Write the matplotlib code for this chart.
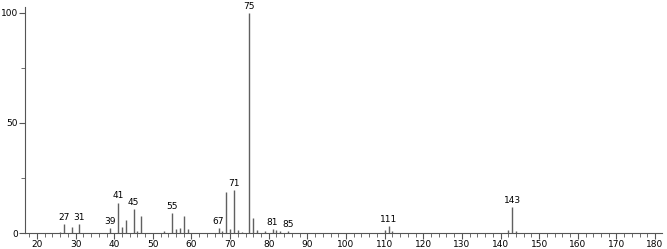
import matplotlib
matplotlib.use("Agg")
import matplotlib.pyplot as plt

mz = [26, 27, 29, 31, 39, 41, 42, 43, 45, 46, 47, 53, 55, 56, 57, 58, 59,
      67, 68, 69, 70, 71, 72, 73, 75, 76, 77, 79, 81, 82, 83, 85,
      110, 111, 112, 142, 143, 144]
intensity = [0.4, 4.1, 2.6, 4.1, 2.1, 13.8, 2.6, 5.9, 10.8, 0.8, 7.7, 0.8, 9.2, 1.8, 2.4, 7.7, 2.0,
             2.1, 1.0, 18.5, 1.7, 19.5, 1.5, 0.6, 100, 6.7, 1.5, 0.7, 1.8, 1.5, 0.8, 1.0,
             1.5, 3.2, 0.8, 1.5, 11.7, 1.0]
labeled = [27, 31, 39, 41, 45, 55, 67, 71, 75, 81, 85, 111, 143]
x_ticks = list(range(20, 181, 10))
y_ticks = [0, 50, 100]

fig = plt.figure(figsize=(6.67, 2.49), dpi=100)
ax = fig.add_axes([25/667, 16/249, 637/667, 226/249])
ax.vlines(mz, 0, intensity, color="#606060", linewidth=1.0)
for m, v in zip(mz, intensity):
    if m in labeled:
        ax.text(m, v + 1.0, str(m), ha="center", va="bottom", fontsize=6.5, color="black")

ax.set_xlim(16.9, 181.8)
ax.set_ylim(0, 102.7)
ax.set_xticks(x_ticks)
ax.set_xticks(range(18, 182, 2), minor=True)
ax.set_yticks(y_ticks)
ax.set_yticks([25, 75], minor=True)
for s in ["top", "right"]:
    ax.spines[s].set_visible(False)
ax.spines["left"].set_color("#555555")
ax.spines["bottom"].set_color("#555555")
ax.tick_params(axis="both", which="major", labelsize=6.5, length=4, color="#555555")
ax.tick_params(axis="both", which="minor", length=3, color="#555555")
ax.tick_params(axis="x", pad=1)
ax.tick_params(axis="y", pad=1)
fig.savefig("out.png", dpi=100)
